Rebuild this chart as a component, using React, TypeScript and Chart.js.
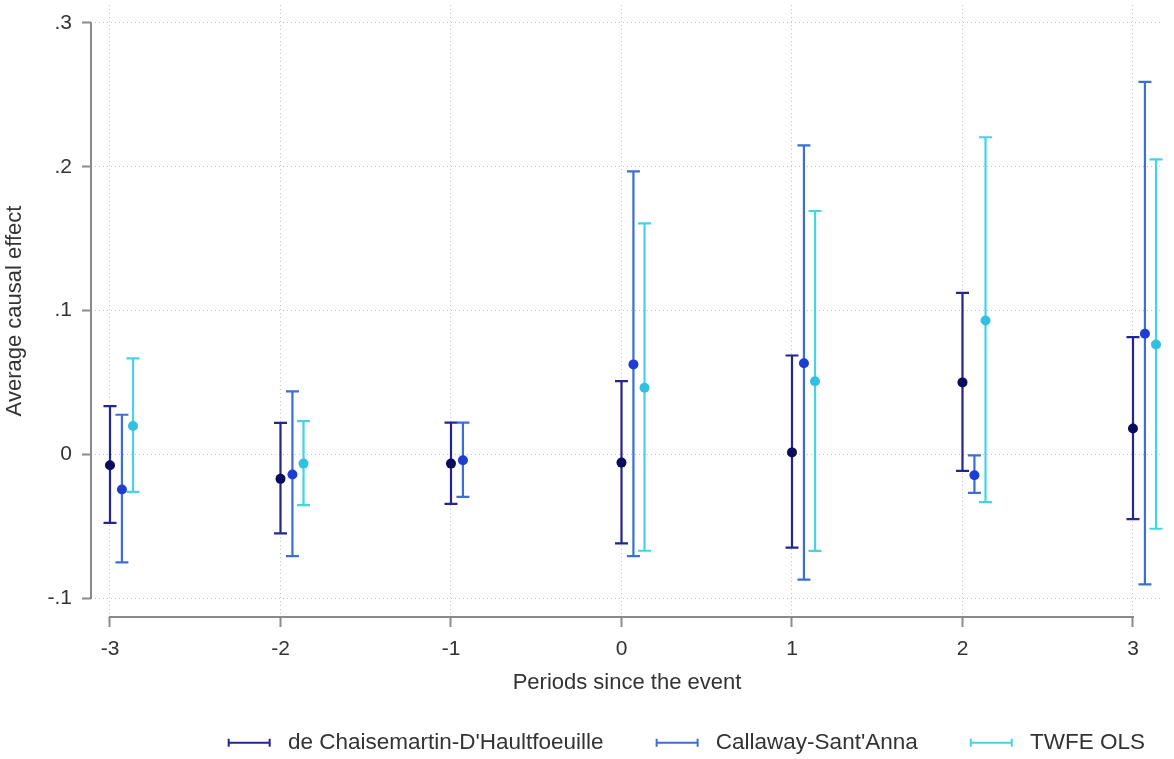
import React, { useEffect, useRef } from 'react';
import { Chart, registerables } from 'chart.js';

Chart.register(...registerables);

// ---------------- data ----------------
const periods = [-3, -2, -1, 0, 1, 2, 3];
const seriesNames = ["de Chaisemartin-D'Haultfoeuille", "Callaway-Sant'Anna", 'TWFE OLS'];

const dcdhEst = [-0.0076, -0.0171, -0.0065, -0.0058, 0.0013, 0.05, 0.0179];
const dcdhLo = [-0.0477, -0.0551, -0.0345, -0.062, -0.0649, -0.0115, -0.0451];
const dcdhHi = [0.0335, 0.0218, 0.022, 0.0509, 0.0687, 0.1123, 0.0815];

const csEst = [-0.0245, -0.0141, -0.0042, 0.0625, 0.0633, -0.0146, 0.0838];
const csLo = [-0.0752, -0.0708, -0.0296, -0.0708, -0.0872, -0.0269, -0.0905];
const csHi = [0.0275, 0.0438, 0.022, 0.1968, 0.2149, -0.0008, 0.259];

const twfeEst = [0.0197, -0.0065, null, 0.0463, 0.0508, 0.0931, 0.0764];
const twfeLo = [-0.0262, -0.0354, null, -0.0671, -0.0672, -0.0333, -0.0518];
const twfeHi = [0.0667, 0.0231, null, 0.1606, 0.1692, 0.2205, 0.2051];

const xTickValues = [-3, -2, -1, 0, 1, 2, 3];
const xTickLabels = ['-3', '-2', '-1', '0', '1', '2', '3'];
const yTickValues = [0.3, 0.2, 0.1, 0, -0.1];
const yTickLabels = ['.3', '.2', '.1', '0', '-.1'];

// ---------------- styles ----------------
const DODGE = [0, 0.07, 0.135];
const BAR_COLORS = ['#25258f', '#3b6fd4', '#45d3e6'];
const POINT_COLORS = ['#0c0c5c', '#1c3ed4', '#33bfe2'];
const FONT = "'Liberation Sans', Arial, sans-serif";
const TEXT = '#333333';
const AXIS = '#8a8a8a';
const GRID = '#c2c2c2';
const CAP = 6.5;

const estimates = [dcdhEst, csEst, twfeEst];
const lows = [dcdhLo, csLo, twfeLo];
const highs = [dcdhHi, csHi, twfeHi];

function makeLegendMarker(color: string): HTMLCanvasElement {
  const c = document.createElement('canvas');
  c.width = 83;
  c.height = 14;
  const g = c.getContext('2d')!;
  g.strokeStyle = color;
  g.lineWidth = 2;
  g.beginPath();
  g.moveTo(34, 7);
  g.lineTo(77, 7);
  g.moveTo(35, 3);
  g.lineTo(35, 11);
  g.moveTo(76, 3);
  g.lineTo(76, 11);
  g.stroke();
  return c;
}

const axisPlugin = {
  id: 'stataAxes',
  beforeDatasetsDraw(chart: any) {
    const { ctx, chartArea, scales } = chart;
    const x = scales.x;
    const y = scales.y;
    ctx.save();
    ctx.strokeStyle = AXIS;
    ctx.lineWidth = 2;
    ctx.beginPath();
    const yTop = y.getPixelForValue(Math.max(...yTickValues));
    const yBot = y.getPixelForValue(Math.min(...yTickValues));
    ctx.moveTo(chartArea.left, yTop - 1);
    ctx.lineTo(chartArea.left, yBot + 1);
    const xL = x.getPixelForValue(Math.min(...xTickValues));
    const xR = x.getPixelForValue(Math.max(...xTickValues));
    ctx.moveTo(xL - 1, chartArea.bottom);
    ctx.lineTo(xR + 1, chartArea.bottom);
    ctx.stroke();
    ctx.restore();
  },
};

const errorBarPlugin = {
  id: 'errorBars',
  beforeDatasetsDraw(chart: any) {
    const { ctx, scales } = chart;
    const x = scales.x;
    const y = scales.y;
    chart.data.datasets.forEach((ds: any, di: number) => {
      const meta = chart.getDatasetMeta(di);
      if (meta.hidden) return;
      ctx.save();
      ctx.strokeStyle = ds.barColor;
      ctx.lineWidth = 2.2;
      ds.data.forEach((pt: any) => {
        const px = x.getPixelForValue(pt.x);
        const yl = y.getPixelForValue(pt.lo);
        const yh = y.getPixelForValue(pt.hi);
        ctx.beginPath();
        ctx.moveTo(px, yh);
        ctx.lineTo(px, yl);
        ctx.moveTo(px - CAP, yh);
        ctx.lineTo(px + CAP, yh);
        ctx.moveTo(px - CAP, yl);
        ctx.lineTo(px + CAP, yl);
        ctx.stroke();
      });
      ctx.restore();
    });
  },
};

export default function App() {
  const ref = useRef<HTMLCanvasElement | null>(null);

  useEffect(() => {
    if (!ref.current) return;
    Chart.defaults.font.family = FONT;
    Chart.defaults.color = TEXT;

    const datasets = seriesNames.map((name, s) => ({
      label: name,
      barColor: BAR_COLORS[s],
      data: periods
        .map((p, i) =>
          estimates[s][i] == null
            ? null
            : { x: p + DODGE[s], y: estimates[s][i], lo: lows[s][i], hi: highs[s][i] }
        )
        .filter((d) => d !== null),
      showLine: false,
      pointRadius: 5,
      pointHoverRadius: 5,
      pointBorderWidth: 0,
      pointBackgroundColor: POINT_COLORS[s],
      backgroundColor: POINT_COLORS[s],
      borderColor: BAR_COLORS[s],
    }));

    const chart = new Chart(ref.current, {
      type: 'scatter',
      data: { datasets: datasets as any },
      plugins: [axisPlugin, errorBarPlugin],
      options: {
        animation: false,
        responsive: false,
        events: [],
        layout: { padding: { left: 0, right: 11, top: 4, bottom: -5 } },
        scales: {
          x: {
            type: 'linear',
            min: -3.1114,
            max: 3.176,
            afterBuildTicks: (scale: any) => {
              scale.ticks = xTickValues.map((v) => ({ value: v }));
            },
            afterFit: (scale: any) => {
              scale.height = 96.5;
              scale.paddingLeft = 0;
              scale.paddingRight = 0;
            },
            ticks: {
              autoSkip: false,
              padding: 10,
              font: { size: 21 },
              color: TEXT,
              callback: (v: any) => xTickLabels[xTickValues.indexOf(Number(v))] ?? '',
            },
            grid: {
              color: GRID,
              lineWidth: 1,
              drawTicks: true,
              tickLength: 10,
              tickColor: AXIS,
              tickWidth: 2,
            },
            border: { display: false, dash: [1, 3] },
            title: {
              display: true,
              text: 'Periods since the event',
              font: { size: 22 },
              color: TEXT,
              padding: { top: 0, bottom: 17 },
            },
          },
          y: {
            type: 'linear',
            min: -0.1132,
            max: 0.3125,
            afterBuildTicks: (scale: any) => {
              scale.ticks = yTickValues.map((v) => ({ value: v }));
            },
            afterFit: (scale: any) => {
              scale.width = 91;
              scale.paddingTop = 0;
              scale.paddingBottom = 0;
            },
            ticks: {
              autoSkip: false,
              padding: 10,
              font: { size: 21 },
              color: TEXT,
              callback: (v: any) => {
                const idx = yTickValues.findIndex((t) => Math.abs(t - Number(v)) < 1e-9);
                return idx >= 0 ? yTickLabels[idx] : '';
              },
            },
            grid: {
              color: GRID,
              lineWidth: 1,
              drawTicks: true,
              tickLength: 9,
              tickColor: AXIS,
              tickWidth: 2,
            },
            border: { display: false, dash: [1, 3] },
            title: {
              display: true,
              text: 'Average causal effect',
              font: { size: 22 },
              color: TEXT,
              padding: { top: 2, bottom: 0 },
            },
          },
        },
        plugins: {
          tooltip: { enabled: false },
          legend: {
            display: true,
            position: 'bottom',
            align: 'end',
            labels: {
              usePointStyle: true,
              pointStyleWidth: 83,
              padding: 18,
              color: TEXT,
              font: { size: 22.5 },
              generateLabels: (ch: any) =>
                ch.data.datasets.map((ds: any, i: number) => ({
                  text: ds.label,
                  pointStyle: makeLegendMarker(ds.barColor),
                  fillStyle: ds.barColor,
                  strokeStyle: ds.barColor,
                  lineWidth: 0,
                  hidden: false,
                  datasetIndex: i,
                  fontColor: TEXT,
                })),
            },
          },
        },
      } as any,
    });
    return () => chart.destroy();
  }, []);

  return (
    <div style={{ position: 'absolute', left: 0, top: 0, width: 1174, height: 759, background: '#fff' }}>
      <canvas ref={ref} width={1174} height={759} style={{ display: 'block' }} />
    </div>
  );
}
